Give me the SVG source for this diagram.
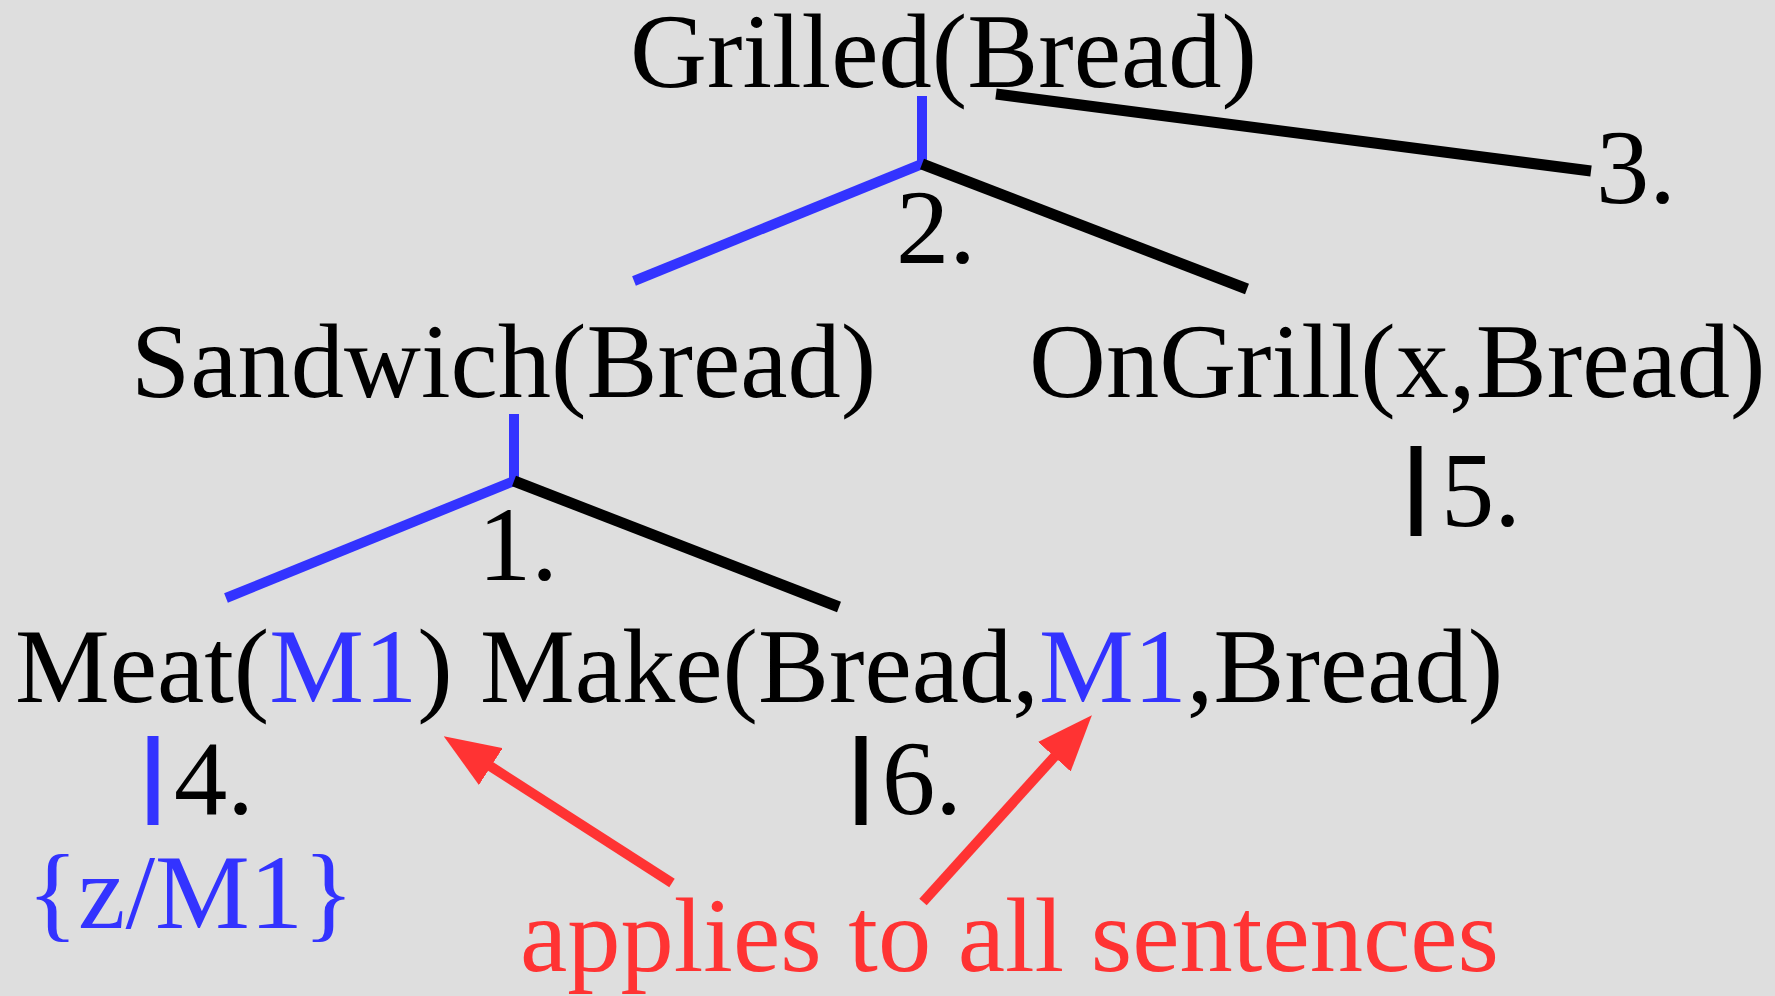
<svg xmlns="http://www.w3.org/2000/svg" width="1775" height="996" viewBox="0 0 1775 996">
<style>
text{font-family:"Liberation Serif","Times New Roman",serif;font-size:106.5px;fill:#000}
.b{fill:#3333ff}
.r{fill:#ff3333}
.lk{stroke:#000;stroke-width:11;fill:none}
.lb{stroke:#3333ff;stroke-width:10;fill:none}
.bar{stroke-width:11}
.ar{stroke:#ff3333;stroke-width:10;fill:none;marker-end:url(#ah)}
</style>
<defs>
<marker id="ah" viewBox="0 0 56 44" markerWidth="56" markerHeight="44" markerUnits="userSpaceOnUse" refX="1" refY="22" orient="auto">
<path d="M0,0 L56,22 L0,44 z" fill="#ff3333"/>
</marker>
</defs>
<rect width="1775" height="996" fill="#dedede"/>
<g id="connectors">
<line class="lb" x1="922" y1="96" x2="922" y2="165"/>
<line class="lb" x1="922" y1="164" x2="634" y2="281"/>
<line class="lk" x1="922" y1="164" x2="1247" y2="289"/>
<line class="lk" x1="996" y1="94" x2="1591" y2="171"/>
<line class="lb" x1="514" y1="414" x2="514" y2="482"/>
<line class="lb" x1="514" y1="481" x2="226" y2="598"/>
<line class="lk" x1="514" y1="481" x2="839" y2="607"/>
<line class="lb bar" x1="153" y1="736" x2="153" y2="825"/>
<line class="lk bar" x1="861" y1="736" x2="861" y2="825"/>
<line class="lk bar" x1="1416" y1="446" x2="1416" y2="536"/>
<line class="ar" x1="672" y1="883" x2="490" y2="766"/>
<line class="ar" x1="923" y1="902" x2="1055" y2="756"/>
</g>
<g id="grilled"><text x="630" y="87">Grilled(Bread)</text></g>
<g id="step2"><text x="896" y="263">2.</text></g>
<g id="step3"><text x="1596" y="203">3.</text></g>
<g id="sandwich"><text x="131" y="397">Sandwich(Bread)</text></g>
<g id="ongrill"><text x="1029" y="397">OnGrill(x,Bread)</text></g>
<g id="step1"><text x="478" y="580">1.</text></g>
<g id="step5"><text x="1441" y="526">5.</text></g>
<g id="meat"><text x="15" y="702">Meat(<tspan class="b">M1</tspan>)</text></g>
<g id="make"><text x="480" y="702">Make(Bread,<tspan class="b">M1</tspan>,Bread)</text></g>
<g id="step4"><text x="174" y="814">4.</text></g>
<g id="step6"><text x="882" y="814">6.</text></g>
<g id="subst"><text class="b" x="27" y="928">{z/M1}</text></g>
<g id="note"><text class="r" x="520" y="971">applies to all sentences</text></g>
</svg>
